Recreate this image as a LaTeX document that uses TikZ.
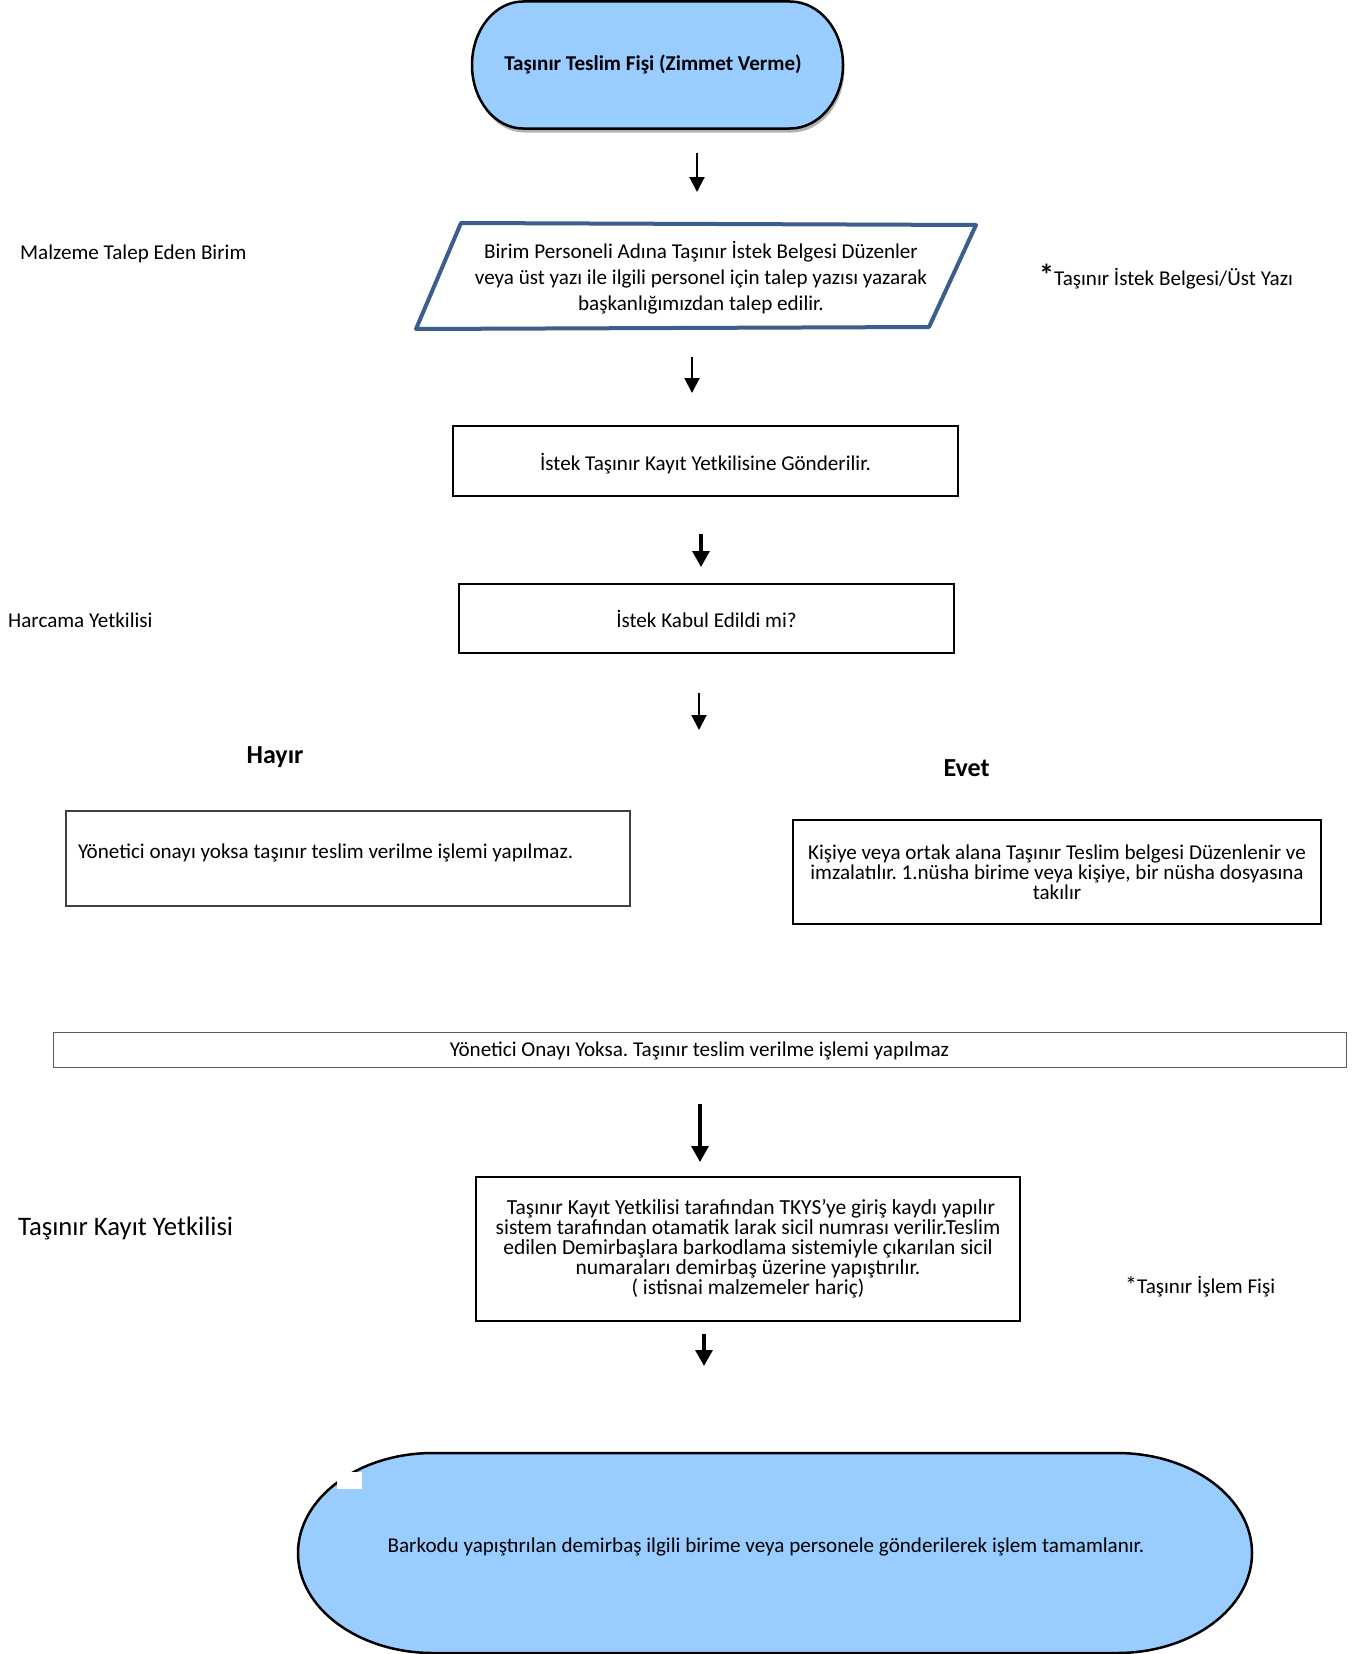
\documentclass[tikz,border=0pt]{standalone}
\usepackage{fontspec}
\setmainfont{Carlito}
\usetikzlibrary{arrows.meta,shadows}
\definecolor{termblue}{HTML}{99CCFF}
\definecolor{parablue}{RGB}{59,94,140}
\newcommand\fnorm{\fontsize{21.1}{20}\selectfont\lineskiplimit=-50pt\relax}
\newcommand\fbig{\fontsize{21.5}{20}\selectfont\lineskiplimit=-50pt\relax}
\newcommand\fpara{\fontsize{21.1}{26}\selectfont\lineskiplimit=-50pt\relax}
\tikzset{
  flowbox/.style={draw=black, line width=2.5pt, inner sep=0pt, align=center, font=\fnorm},
  thinbox/.style={draw=black!75, line width=1.5pt, inner sep=0pt, font=\fnorm},
  barbox/.style={draw=black!65, line width=1pt, inner sep=0pt, font=\fnorm},
  terminal/.style={draw=black, line width=2.5pt, fill=termblue},
  flowarrow/.style={-{Triangle[width=15pt,length=15pt]}, line width=2pt},
  heavyarrow/.style={-{Triangle[width=17pt,length=16pt]}, line width=3.2pt},
  lanelabel/.style={anchor=base west, inner sep=0pt, font=\fnorm},
  answer/.style={anchor=base, inner sep=0pt, font=\fontsize{26}{26}\selectfont\bfseries},
}
\begin{document}
\frenchspacing
\begin{tikzpicture}[x=1pt,y=-1pt]
\useasboundingbox (0,0) rectangle (1360,1654);

% start terminator
\path[terminal, drop shadow={shadow xshift=1.5pt, shadow yshift=-4pt, opacity=0.3, fill=black}]
  (523,1.5) -- (790,1.5) arc[start angle=-90, end angle=90, x radius=53, y radius=63.5]
  -- (523,128.5) arc[start angle=90, end angle=270, x radius=51, y radius=63.5] -- cycle;
\node[inner sep=0pt, font=\fnorm\bfseries] (start) at (653,64.5) {Taşınır Teslim Fişi (Zimmet Verme)};

% parallelogram
\draw[draw=parablue, line width=4pt, line join=round]
  (461,223) -- (976,225) -- (929,327) -- (416,329) -- cycle;
\node[inner sep=0pt, align=center, font=\fpara] (request) at (701,278)
  {Birim Personeli Adına Taşınır İstek Belgesi Düzenler\\
   veya üst yazı ile ilgili personel için talep yazısı yazarak\\
   başkanlığımızdan talep edilir.};

% boxes
\node[flowbox, minimum width=505pt, minimum height=70pt, text height=20pt, text depth=2pt] (send) at (705.5,461)
  {İstek Taşınır Kayıt Yetkilisine Gönderilir.};
\node[flowbox, minimum width=495pt, minimum height=69pt] (decide) at (706.5,618.5)
  {İstek Kabul Edildi mi?};
\node[thinbox, minimum width=564pt, minimum height=95pt, text width=540pt, inner xsep=12pt,
      align=flush left, text height=10pt, text depth=10pt] (noapp) at (348,858.5)
  {Yönetici onayı yoksa taşınır teslim verilme işlemi yapılmaz.};
\node[flowbox, minimum width=528pt, minimum height=104pt] (yesbox) at (1057,872)
  {Kişiye veya ortak alana Taşınır Teslim belgesi Düzenlenir ve\\
   imzalatılır. 1.nüsha birime veya kişiye, bir nüsha dosyasına\\
   takılır};
\node[barbox, minimum width=1293pt, minimum height=35pt, text height=16pt, text depth=3pt] (bar) at (699.5,1049.5)
  {Yönetici Onayı Yoksa. Taşınır teslim verilme işlemi yapılmaz};
\node[flowbox, font=\fbig, minimum width=544pt, minimum height=144pt] (tkys) at (748,1249)
  {\hspace*{6pt}Taşınır Kayıt Yetkilisi tarafından TKYS’ye giriş kaydı yapılır\\
   sistem tarafından otamatik larak sicil numrası verilir.Teslim\\
   edilen Demirbaşlara barkodlama sistemiyle çıkarılan sicil\hspace*{6pt}\\
   numaraları demirbaş üzerine yapıştırılır.\\
   ( istisnai malzemeler hariç)};

% end terminator
\path[terminal]
  (433,1453) -- (1117,1453) arc[start angle=-90, end angle=90, x radius=135, y radius=100]
  -- (433,1653) arc[start angle=90, end angle=270, x radius=135, y radius=100] -- cycle;
\fill[white] (337,1472) rectangle (362,1489);
\node[inner sep=0pt, font=\fnorm] (finish) at (766,1547)
  {Barkodu yapıştırılan demirbaş ilgili birime veya personele gönderilerek işlem tamamlanır.};

% lane labels and notes
\node[lanelabel] (lane1) at (20,259) {Malzeme Talep Eden Birim};
\node[lanelabel] (lane2) at (8,627) {Harcama Yetkilisi};
\node[lanelabel, font=\fontsize{26.7}{26}\selectfont] (lane3) at (18,1235) {Taşınır Kayıt Yetkilisi};
\node[lanelabel] (note1) at (1039,285) {{\fontsize{30}{30}\selectfont\bfseries *}Taşınır İstek Belgesi/Üst Yazı};
\node[lanelabel] (note2) at (1125,1293) {{\fontsize{24}{24}\selectfont *}Taşınır İşlem Fişi};
\node[answer] (no) at (275,763) {Hayır};
\node[answer] (yes) at (966.5,776) {Evet};

% arrows
\coordinate (a1s) at (697,153);  \coordinate (a1e) at (697,192);
\coordinate (a2s) at (692,357);  \coordinate (a2e) at (692,393);
\coordinate (a3s) at (701,534);  \coordinate (a3e) at (701,567);
\coordinate (a4s) at (699,693);  \coordinate (a4e) at (699,730);
\coordinate (a5s) at (700,1104); \coordinate (a5e) at (700,1162);
\coordinate (a6s) at (704,1334); \coordinate (a6e) at (704,1366);
\draw[flowarrow] (a1s) -- (a1e);
\draw[flowarrow] (a2s) -- (a2e);
\draw[heavyarrow] (a3s) -- (a3e);
\draw[flowarrow] (a4s) -- (a4e);
\draw[heavyarrow] (a5s) -- (a5e);
\draw[heavyarrow] (a6s) -- (a6e);
\end{tikzpicture}
\end{document}
